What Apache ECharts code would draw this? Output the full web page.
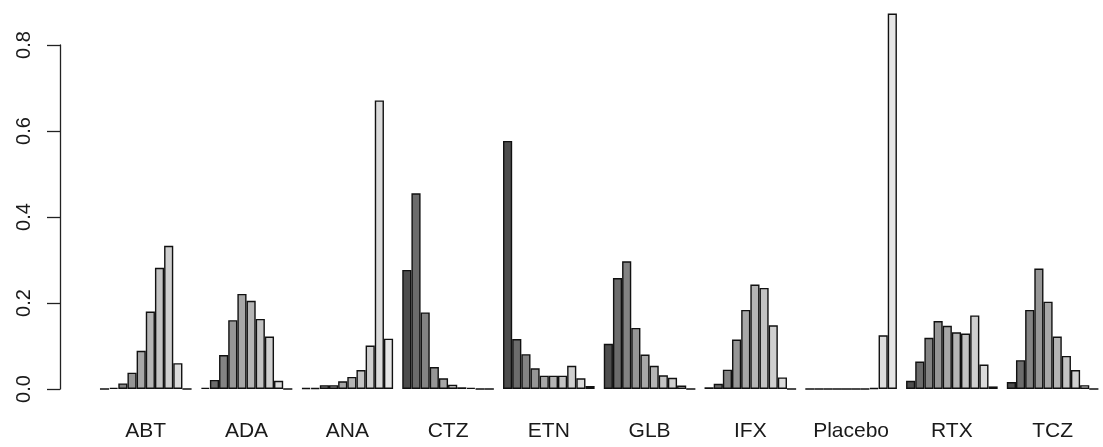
<!DOCTYPE html>
<html>
<head>
<meta charset="utf-8">
<script src="https://cdn.jsdelivr.net/npm/echarts@6/dist/echarts.min.js"></script>
<style>
  html, body { margin: 0; padding: 0; background: #fff; }
  #chart { width: 1103px; height: 447px; }
</style>
</head>
<body>
<div id="chart"></div>
<script>
// Groups (drugs) shown along the x axis
var categories = ['ABT', 'ADA', 'ANA', 'CTZ', 'ETN', 'GLB', 'IFX', 'Placebo', 'RTX', 'TCZ'];

// Probability of each rank (1..10) for each drug
var ABT     = [0.000, 0.003, 0.013, 0.038, 0.089, 0.180, 0.282, 0.333, 0.060, 0.000];
var ADA     = [0.003, 0.021, 0.079, 0.160, 0.221, 0.205, 0.163, 0.122, 0.019, 0.000];
var ANA     = [0.002, 0.002, 0.009, 0.009, 0.018, 0.028, 0.044, 0.101, 0.671, 0.117];
var CTZ     = [0.277, 0.455, 0.178, 0.051, 0.025, 0.010, 0.004, 0.003, 0.000, 0.000];
var ETN     = [0.577, 0.116, 0.081, 0.048, 0.031, 0.031, 0.031, 0.054, 0.025, 0.007];
var GLB     = [0.105, 0.258, 0.297, 0.142, 0.080, 0.054, 0.032, 0.026, 0.008, 0.000];
var IFX     = [0.004, 0.012, 0.045, 0.115, 0.184, 0.243, 0.235, 0.148, 0.027, 0.000];
var Placebo = [0.000, 0.000, 0.000, 0.000, 0.000, 0.000, 0.000, 0.002, 0.125, 0.873];
var RTX     = [0.019, 0.064, 0.119, 0.158, 0.147, 0.132, 0.129, 0.171, 0.057, 0.006];
var TCZ     = [0.016, 0.067, 0.184, 0.280, 0.203, 0.122, 0.077, 0.044, 0.009, 0.000];

var groups = [ABT, ADA, ANA, CTZ, ETN, GLB, IFX, Placebo, RTX, TCZ];

// Y axis tick values
var yTicks = [0.0, 0.2, 0.4, 0.6, 0.8];

// R gray.colors(10)
var greys = ['#4D4D4D', '#6C6C6C', '#838383', '#969696', '#A7A7A7',
             '#B5B5B5', '#C3C3C3', '#CFCFCF', '#DBDBDB', '#E6E6E6'];

var series = [];
for (var r = 0; r < 10; r++) {
  series.push({
    type: 'bar',
    name: 'Rank ' + (r + 1),
    data: groups.map(function (g) { return g[r]; }),
    barGap: '0%',
    barCategoryGap: (100 / 11) + '%',
    clip: false,
    itemStyle: { color: greys[r], borderColor: '#111', borderWidth: 1.4 },
    emphasis: { disabled: true },
    animation: false
  });
}

var chart = echarts.init(document.getElementById('chart'), null, { renderer: 'canvas' });
chart.setOption({
  backgroundColor: '#ffffff',
  animation: false,
  grid: { left: 95.4, top: 45, width: 1011.9, height: 344, containLabel: false },
  xAxis: {
    type: 'category',
    data: categories,
    axisLine: { show: false },
    axisTick: { show: false },
    axisLabel: { fontFamily: 'Liberation Sans', fontSize: 21, color: '#1a1a1a', margin: 32, interval: 0 },
    splitLine: { show: false }
  },
  yAxis: {
    type: 'value',
    min: yTicks[0],
    max: yTicks[yTicks.length - 1],
    interval: 0.2,
    offset: 35.4,
    axisLine: { show: true, lineStyle: { color: '#222', width: 1.3 } },
    axisTick: { show: true, length: 13, lineStyle: { color: '#222', width: 1.3 } },
    axisLabel: {
      fontFamily: 'Liberation Sans', fontSize: 20, color: '#1a1a1a', rotate: 90, margin: 26,
      formatter: function (v) { return v.toFixed(1); }
    },
    splitLine: { show: false }
  },
  series: series
});
</script>
</body>
</html>
